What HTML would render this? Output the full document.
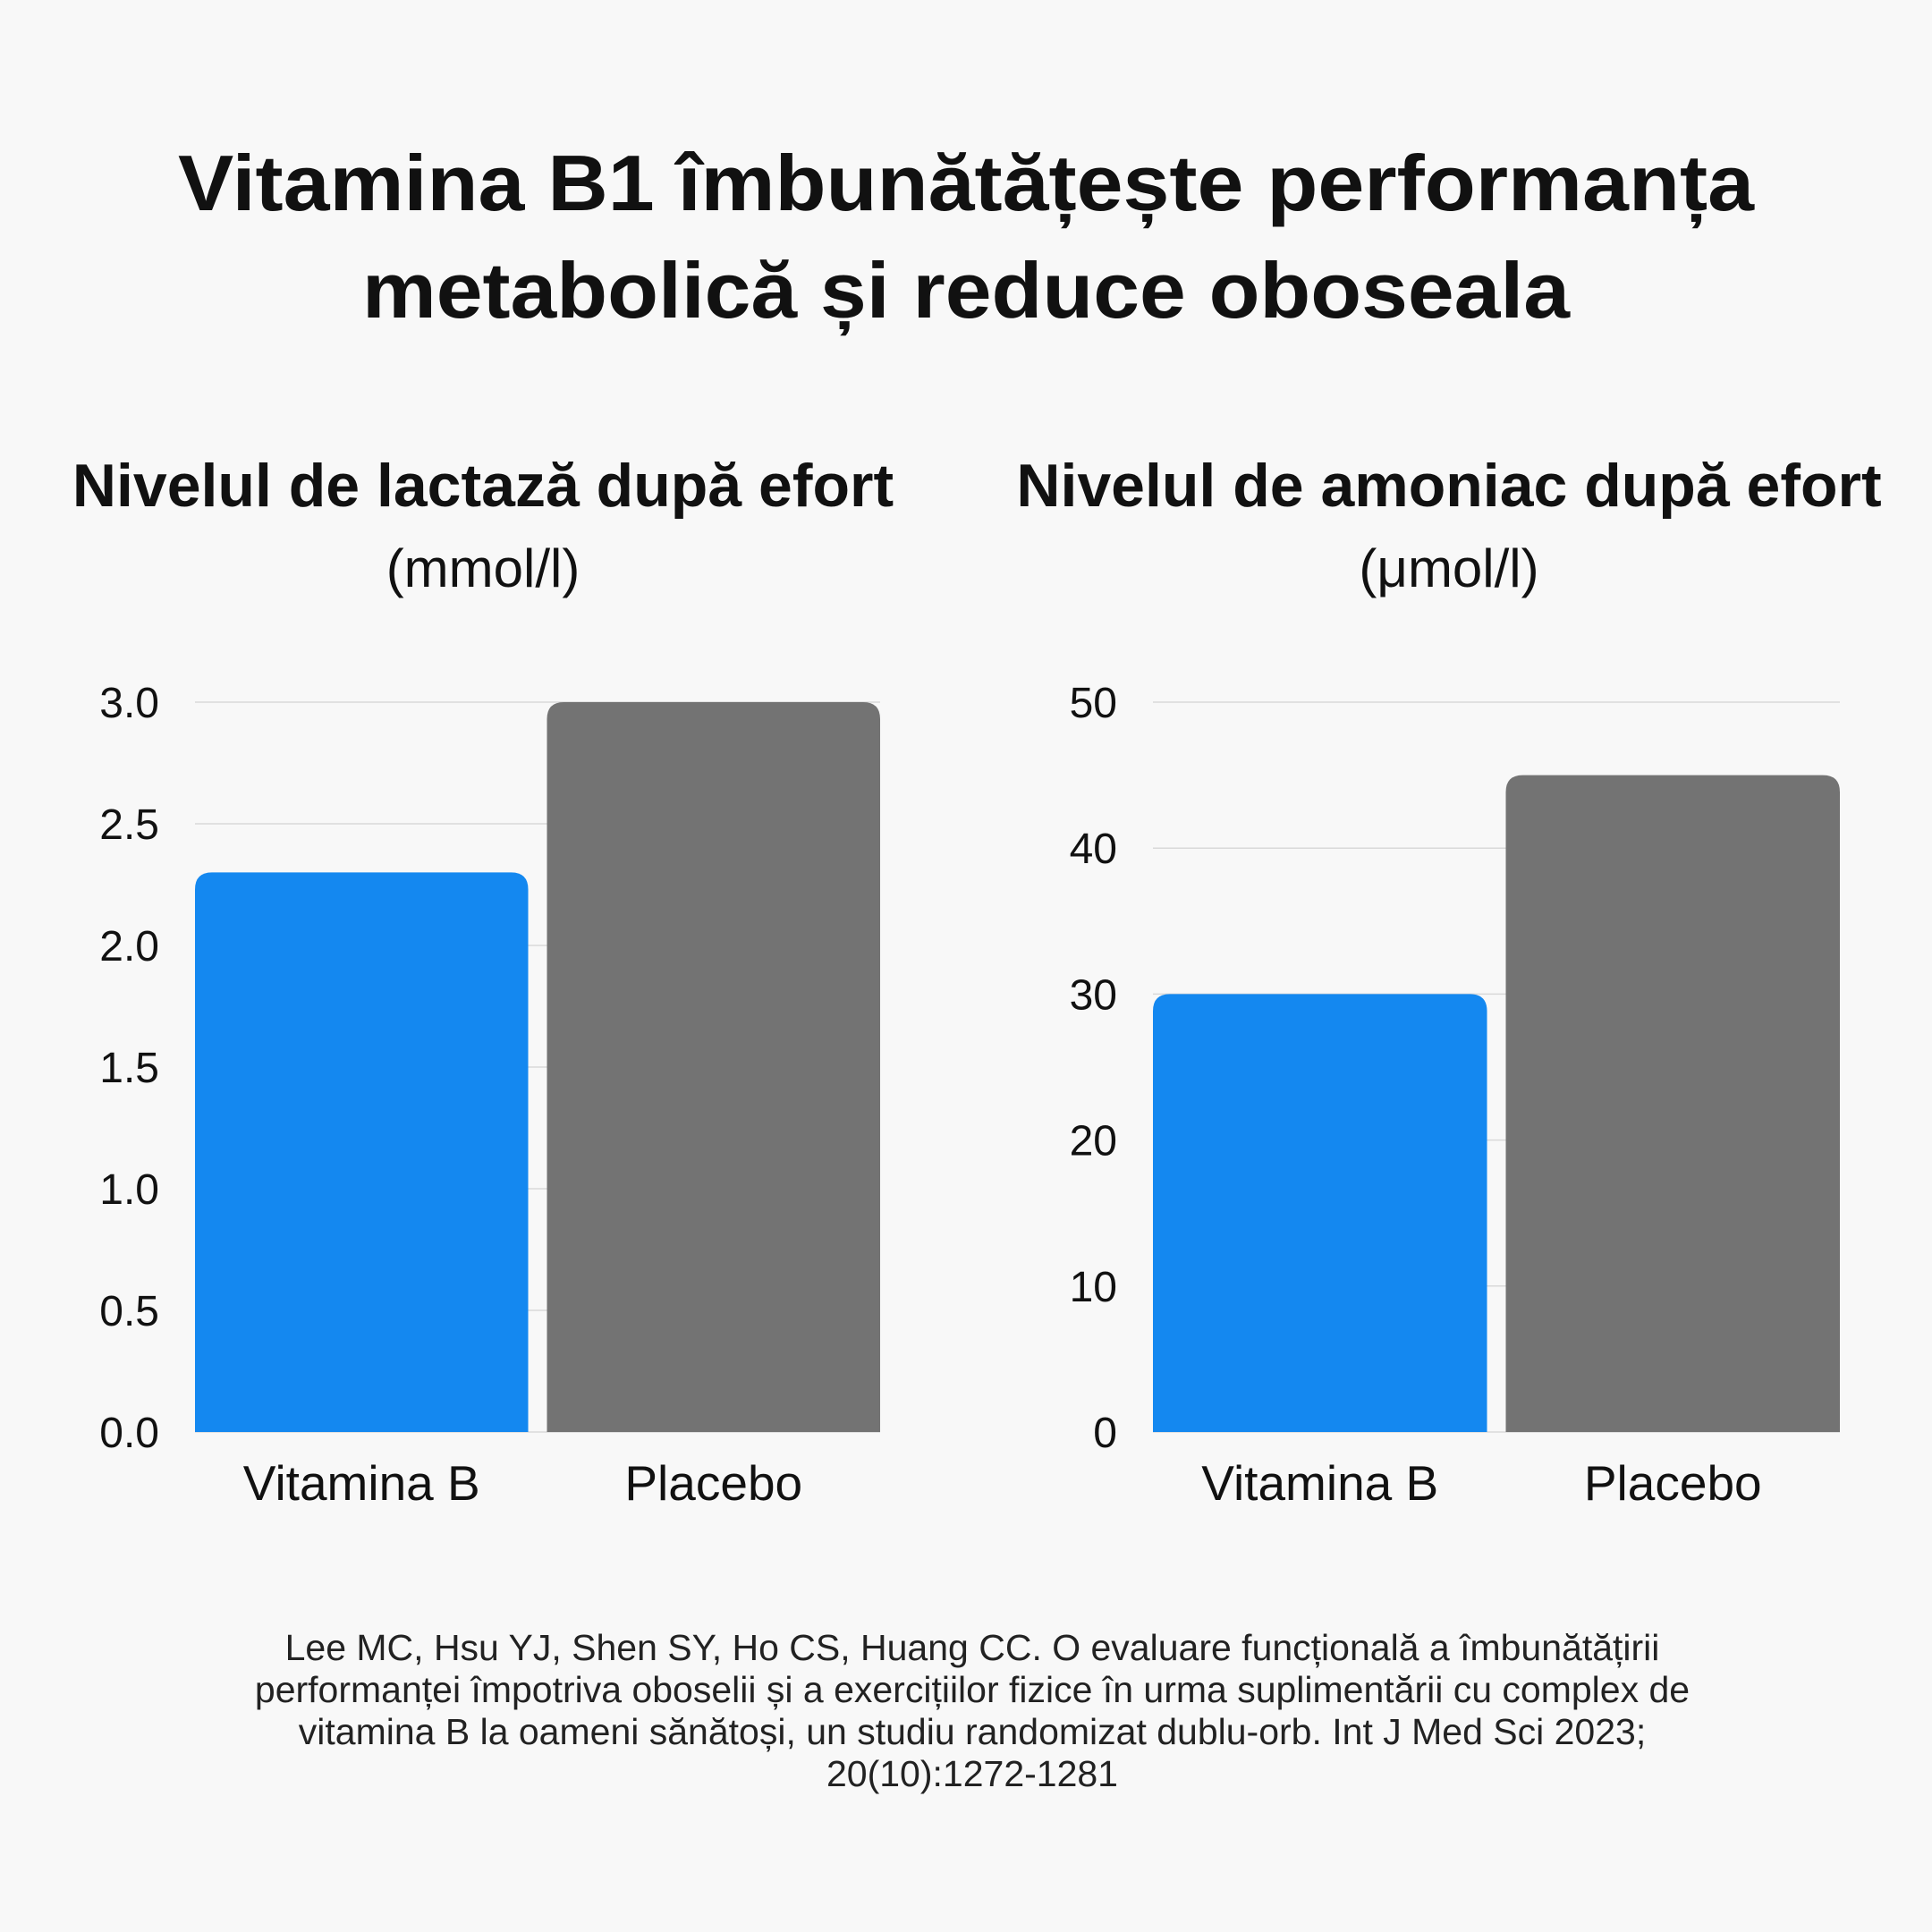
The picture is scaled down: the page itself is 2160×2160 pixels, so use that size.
<!DOCTYPE html>
<html><head><meta charset="utf-8"><style>
html,body{margin:0;padding:0;background:#f8f8f8;}
svg{display:block;font-family:"Liberation Sans",sans-serif;}
</style></head><body>
<svg id="s" width="2160" height="2160" viewBox="0 0 2160 2160" xmlns="http://www.w3.org/2000/svg">
<rect width="2160" height="2160" fill="#f8f8f8"/>
<g font-weight="bold" font-size="88" fill="#111" text-anchor="middle">
<text x="1080" y="235" textLength="1762" lengthAdjust="spacingAndGlyphs">Vitamina B1 îmbunătățește performanța</text>
<text x="1080" y="355" textLength="1350" lengthAdjust="spacingAndGlyphs">metabolică și reduce oboseala</text>
</g>
<g id="left"></g>
<g id="right"></g>
<g font-size="41" fill="#222" text-anchor="middle">
<text x="1087" y="1856">Lee MC, Hsu YJ, Shen SY, Ho CS, Huang CC. O evaluare funcțională a îmbunătățirii</text>
<text x="1087" y="1903">performanței împotriva oboselii și a exercițiilor fizice în urma suplimentării cu complex de</text>
<text x="1087" y="1950">vitamina B la oameni sănătoși, un studiu randomizat dublu-orb. Int J Med Sci 2023;</text>
<text x="1087" y="1997">20(10):1272-1281</text>
</g>
</svg>
<script>
const categories = ["Vitamina B", "Placebo"];
const lactateValues = [2.3, 3.0];
const lactateTicks = ["0.0","0.5","1.0","1.5","2.0","2.5","3.0"];
const ammoniaValues = [30, 45];
const ammoniaTicks = ["0","10","20","30","40","50"];
const NS = "http://www.w3.org/2000/svg";
function mk(tag, attrs, parent, txt){
  const e = document.createElementNS(NS, tag);
  for (const k in attrs) e.setAttribute(k, attrs[k]);
  if (txt !== undefined) e.textContent = txt;
  parent.appendChild(e); return e;
}
function drawChart(g, cfg, values, ticks){
  const x0 = cfg.x0, x1 = cfg.x1, yTop = 785, yBot = 1601;
  const maxV = parseFloat(ticks[ticks.length-1]);
  const yScale = v => yBot - (v / maxV) * (yBot - yTop);
  const t1 = mk("text", {x: cfg.cx, y: 566, "font-size": 68, "font-weight": "bold", "text-anchor": "middle", fill: "#111"}, g, cfg.title);
  
  
  const t2 = mk("text", {x: cfg.cx, y: 656, "font-size": 60, "text-anchor": "middle", fill: "#111"}, g, cfg.unit);
  
  
  ticks.forEach(t => {
    const y = yScale(parseFloat(t));
    const ln = mk("line", {x1: x0, x2: x1, y1: y, y2: y, stroke: "#d9d9d9", "stroke-width": 1.5}, g);
    
    
    const tx = mk("text", {x: cfg.tickX, y: y + 17, "font-size": 48, "text-anchor": "end", fill: "#111"}, g, t);
    
    
  });
  const gap = 21, bw = ((x1 - x0) - gap) / categories.length - gap/2;
  const slot = (x1 - x0 + gap) / categories.length;
  const colors = ["#1488f0", "#737373"];
  categories.forEach((c, i) => {
    const bx = x0 + i * slot, w = slot - gap;
    const y = yScale(values[i]), r = 19;
    const d = `M${bx},${yBot} L${bx},${y+r} Q${bx},${y} ${bx+r},${y} L${bx+w-r},${y} Q${bx+w},${y} ${bx+w},${y+r} L${bx+w},${yBot} Z`;
    const p = mk("path", {d: d, fill: colors[i]}, g);
    
    
    const lb = mk("text", {x: bx + w/2, y: 1677, "font-size": 55, "text-anchor": "middle", fill: "#111"}, g, c);
    
    
  });
}
drawChart(document.getElementById("left"), {x0: 218, x1: 984, cx: 540, tickX: 178, title: "Nivelul de lactază după efort", unit: "(mmol/l)"}, lactateValues, lactateTicks);
drawChart(document.getElementById("right"), {x0: 1289, x1: 2057, cx: 1620, tickX: 1249, title: "Nivelul de amoniac după efort", unit: "(μmol/l)"}, ammoniaValues, ammoniaTicks);
</script>
</body></html>
